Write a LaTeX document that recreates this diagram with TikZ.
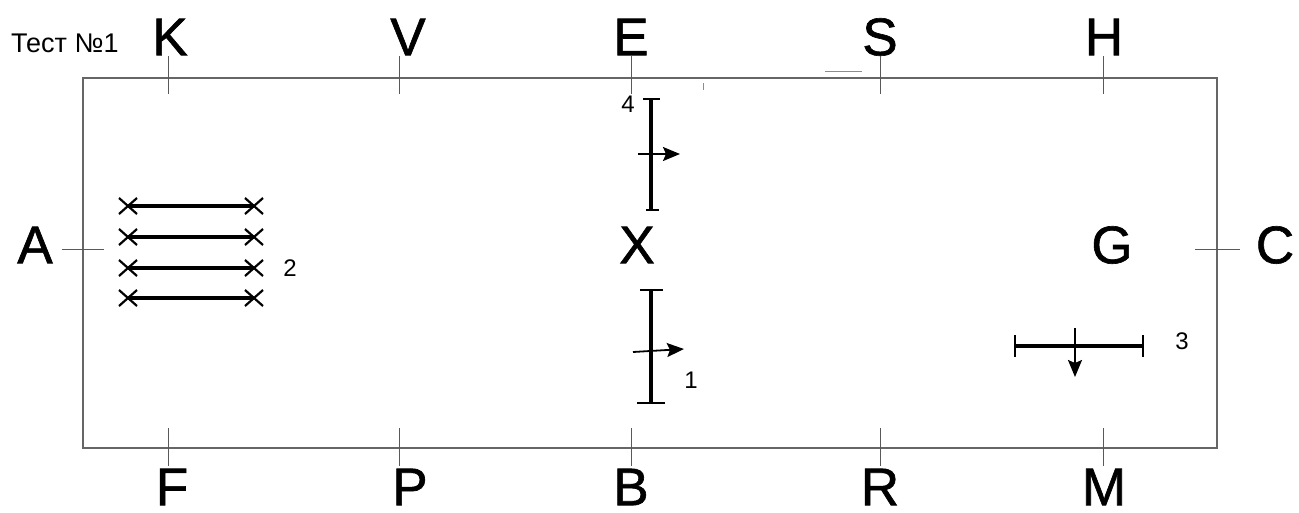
\documentclass[tikz,border=0pt]{standalone}
\usepackage{fontspec}
\setmainfont{Liberation Sans}
\newfontfamily\heavyfont{Liberation Sans}[FakeBold=1.2]
\usetikzlibrary{arrows.meta}
\begin{document}
\begin{tikzpicture}[x=1pt,y=-1pt,
  big/.style={inner sep=0pt,font=\heavyfont\fontsize{53}{56}\selectfont},
  small/.style={inner sep=0pt,font=\fontsize{24}{26}\selectfont},
  frame/.style={draw=black!60,line width=1.3pt},
  tick/.style={draw=black!65,line width=1pt},
  bar/.style={draw=black,line width=3.3pt},
  thinbar/.style={draw=black,line width=2.2pt},
  arr/.style={draw=black,line width=1.8pt,-{Stealth[length=17pt,width=14pt,inset=3pt]}}]
\useasboundingbox (0,0) rectangle (1299,512);
% frame
\coordinate (tl) at (83,78);
\coordinate (br) at (1217,448);
\draw[frame] (tl) rectangle (br);
% title
\node[inner sep=0pt,font=\fontsize{27}{30}\selectfont,anchor=west] (title) at (11,43) {Тест №1};
% top letters and ticks
\foreach \n/\x/\t in {K/170/168, V/408/399, E/631/631, S/880/880, H/1104/1103}{
  \node[big] (top\n) at (\x,37) {\n};
  \coordinate (tt\n) at (\t,56);
  \coordinate (tb\n) at (\t,94);
  \draw[tick] (tt\n) -- (tb\n);
}
% bottom letters and ticks
\foreach \n/\x/\t in {F/172/168, P/410/399, B/631/631, R/880/880, M/1104/1103}{
  \node[big] (bot\n) at (\x,487) {\n};
  \coordinate (bt\n) at (\t,428);
  \coordinate (bb\n) at (\t,466);
  \draw[tick] (bt\n) -- (bb\n);
}
% side letters
\node[big] (A) at (35,245) {A};
\node[big] (C) at (1275,245) {C};
\node[big] (G) at (1112,245) {G};
\node[big] (X) at (637,245) {X};
\coordinate (al) at (62,249); \coordinate (ar) at (104,249);
\draw[tick] (al) -- (ar);
\coordinate (cl) at (1195,249); \coordinate (cr) at (1240,249);
\draw[tick] (cl) -- (cr);
% small stray marks
\coordinate (s1) at (825,71); \coordinate (s2) at (862,71);
\draw[draw=black!45,line width=1pt] (s1) -- (s2);
\coordinate (m1) at (703,83); \coordinate (m2) at (703,90);
\draw[draw=black!45,line width=0.8pt] (m1) -- (m2);
% element 4
\coordinate (e4t) at (651,99); \coordinate (e4b) at (651,210);
\draw[bar] (e4t) -- (e4b);
\coordinate (e4tl) at (643,99); \coordinate (e4tr) at (660,99);
\draw[thinbar] (e4tl) -- (e4tr);
\coordinate (e4bl) at (646,210); \coordinate (e4br) at (659,210);
\draw[thinbar] (e4bl) -- (e4br);
\coordinate (e4a) at (638,154); \coordinate (e4z) at (680,154);
\draw[arr] (e4a) -- (e4z);
\node[small] (n4) at (628,104) {4};
% element 1
\coordinate (e1t) at (651,290); \coordinate (e1b) at (651,403);
\draw[bar] (e1t) -- (e1b);
\coordinate (e1tl) at (640,290); \coordinate (e1tr) at (663,290);
\draw[thinbar] (e1tl) -- (e1tr);
\coordinate (e1bl) at (637,403); \coordinate (e1br) at (665,403);
\draw[thinbar] (e1bl) -- (e1br);
\coordinate (e1a) at (633,352); \coordinate (e1z) at (684,349);
\draw[arr] (e1a) -- (e1z);
\node[small] (n1) at (691,380) {1};
% element 2
\foreach \i/\y in {1/206, 2/237, 3/268, 4/298}{
  \coordinate (l\i) at (128,\y); \coordinate (r\i) at (254,\y);
  \draw[bar] (l\i) -- (r\i);
  \draw[thinbar] ([shift={(-9,-8)}]l\i) -- ([shift={(9,8)}]l\i);
  \draw[thinbar] ([shift={(-9,8)}]l\i) -- ([shift={(9,-8)}]l\i);
  \draw[thinbar] ([shift={(-9,-8)}]r\i) -- ([shift={(9,8)}]r\i);
  \draw[thinbar] ([shift={(-9,8)}]r\i) -- ([shift={(9,-8)}]r\i);
}
\node[small] (n2) at (290,268) {2};
% element 3
\coordinate (e3l) at (1015,346); \coordinate (e3r) at (1143,346);
\draw[bar] (e3l) -- (e3r);
\draw[thinbar] ([yshift=-11]e3l) -- ([yshift=11]e3l);
\draw[thinbar] ([yshift=-11]e3r) -- ([yshift=11]e3r);
\coordinate (e3a) at (1075,328); \coordinate (e3z) at (1075,377);
\draw[arr] (e3a) -- (e3z);
\node[small] (n3) at (1182,341) {3};
\end{tikzpicture}
\end{document}
